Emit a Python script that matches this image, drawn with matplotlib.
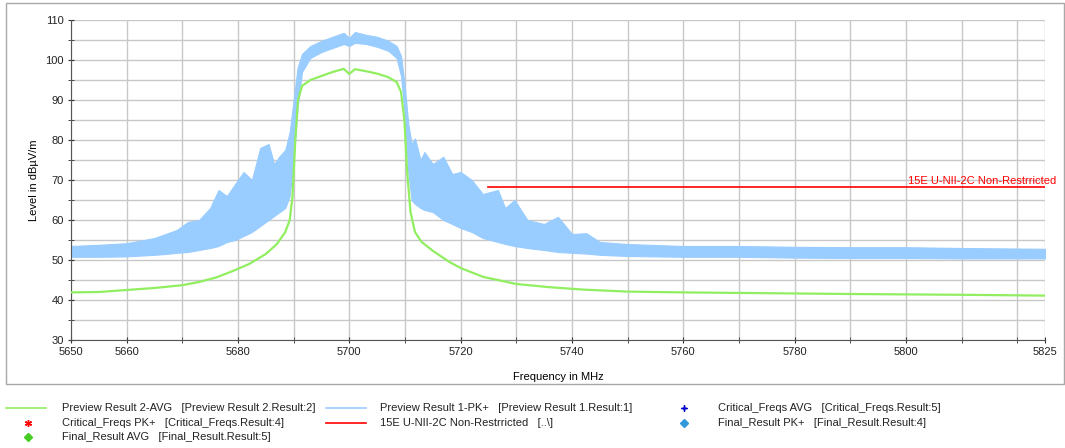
import matplotlib
matplotlib.use('Agg')
import matplotlib.pyplot as plt
from matplotlib.lines import Line2D
from matplotlib.patches import Rectangle
from matplotlib.ticker import MultipleLocator

plt.rcParams['font.family'] = ['Liberation Sans', 'DejaVu Sans']

# ── Preview Result 1-PK+ : envelope of the noisy peak trace (MHz, dBuV/m) ────
pk_freq = [5650, 5655, 5660, 5665, 5667, 5669, 5671, 5673, 5675, 5676.5, 5678,
           5679.5, 5681, 5682.5, 5684, 5685.5, 5686.5, 5687.5, 5688.5, 5689.3,
           5690, 5690.7, 5691.5, 5693, 5695, 5697, 5699, 5700, 5701, 5703,
           5705, 5707, 5708.5, 5709.3, 5710, 5710.6, 5711.2, 5711.8, 5712.8,
           5713.5, 5715, 5716.9, 5718.5, 5720, 5722, 5724, 5726.7, 5728,
           5729.7, 5732, 5735, 5737.5, 5740, 5742.6, 5745, 5750, 5760, 5770,
           5780, 5790, 5800, 5810, 5825]
pk_low = [50.8, 50.8, 50.9, 51.3, 51.5, 51.8, 52.0, 52.5, 53.0, 53.5, 54.5,
          55.0, 56.0, 57.0, 58.5, 60.0, 61.0, 62.0, 63.0, 66.0,
          75.0, 88.0, 97.0, 100.5, 102.0, 103.0, 104.0, 103.5, 104.3, 104.0,
          103.3, 102.3, 100.5, 96.0, 86.0, 72.0, 65.0, 64.0, 63.0,
          62.5, 62.0, 60.0, 59.0, 58.0, 57.0, 55.5, 54.5, 54.0,
          53.5, 53.0, 52.5, 52.0, 51.8, 51.6, 51.3, 51.0, 50.8, 50.8,
          50.6, 50.5, 50.5, 50.4, 50.4]
pk_high = [53.5, 53.8, 54.2, 55.5, 56.5, 57.5, 59.5, 60.0, 63.0, 67.5, 66.0,
           69.0, 72.0, 70.0, 78.0, 79.0, 74.0, 76.0, 77.5, 82.0,
           90.0, 98.0, 101.5, 103.5, 104.8, 105.8, 106.8, 105.5, 107.0, 106.3,
           105.8, 104.8, 103.5, 101.0, 93.0, 84.0, 79.0, 80.4, 75.0,
           77.0, 74.0, 75.8, 71.5, 72.0, 70.0, 66.5, 67.5, 63.0,
           65.0, 60.0, 59.0, 60.8, 56.5, 56.7, 54.5, 54.0, 53.5, 53.5,
           53.3, 53.2, 53.2, 53.0, 52.8]

# ── Preview Result 2-AVG ──────────────────────────────────────────────────────
av_freq = [5650, 5655, 5660, 5665, 5670, 5673, 5676, 5679, 5682, 5685, 5687,
           5688.5, 5689.3, 5689.8, 5690.3, 5690.8, 5691.5, 5693, 5695, 5697,
           5699, 5700, 5701, 5703, 5705, 5707, 5708.5, 5709.3, 5709.9, 5710.4,
           5711, 5711.8, 5713, 5715, 5718, 5720, 5724, 5730, 5736, 5742, 5750,
           5760, 5775, 5790, 5800, 5810, 5825]
av_level = [41.9, 42.0, 42.5, 43.0, 43.7, 44.5, 45.6, 47.2, 49.0, 51.5, 54.0,
            57.0, 60.0, 66.0, 80.0, 90.0, 93.5, 95.0, 96.0, 97.0, 97.8, 96.5,
            97.7, 97.2, 96.6, 95.7, 94.5, 92.0, 85.0, 72.0, 62.0, 57.0, 54.5,
            52.3, 49.5, 48.0, 45.8, 44.0, 43.2, 42.6, 42.1, 41.9, 41.7, 41.5,
            41.4, 41.3, 41.1]

# ── Limit line ────────────────────────────────────────────────────────────────
lim_freq = [5725, 5825]
lim_level = [68.2, 68.2]
lim_name = '15E U-NII-2C Non-Restrricted'

x_labels = [5650, 5660, 5680, 5700, 5720, 5740, 5760, 5780, 5800, 5825]

C_PK = '#99CCFF'
C_AV = '#90EE60'
C_LIM = '#FF0000'

W, H = 1065, 448
fig = plt.figure(figsize=(W / 100, H / 100), dpi=100)
ax = fig.add_axes([71 / W, 1 - 340 / H, (1045 - 71) / W, (340 - 20) / H])

ax.fill_between(pk_freq, pk_low, pk_high, color=C_PK, linewidth=0.8,
                edgecolor=C_PK, zorder=2)
ax.plot(av_freq, av_level, color=C_AV, linewidth=1.6, zorder=3)
ax.plot(lim_freq, lim_level, color=C_LIM, linewidth=1.2, zorder=4)
ax.text(lim_freq[-1] + 2.0, lim_level[0] + 0.4, lim_name, color=C_LIM,
        fontsize=8, ha='right', va='bottom', clip_on=False, zorder=5)

ax.set_xlim(5650, 5825)
ax.set_ylim(30, 110)
ax.set_xticks(x_labels, [str(v) for v in x_labels])
ax.set_xticks(list(range(5650, 5821, 10)) + [5825], minor=True)
ax.yaxis.set_major_locator(MultipleLocator(10))
ax.yaxis.set_minor_locator(MultipleLocator(5))
ax.grid(True, which='both', color='#C8C8C8', linewidth=1.0, zorder=0)
ax.set_axisbelow(True)
for s in ['top', 'right']:
    ax.spines[s].set_visible(False)
for s in ['left', 'bottom']:
    ax.spines[s].set_color('#555555')
ax.tick_params(which='both', labelsize=8, colors='#333333', length=4,
               direction='inout', labelcolor='#222222', pad=3)
ax.set_xlabel('Frequency in MHz', fontsize=8, labelpad=11)
ax.set_ylabel('Level in dBµV/m', fontsize=8, labelpad=5)

# outer frame
fig.patches.append(Rectangle((6 / W, 1 - 384 / H), (1064 - 6) / W, (384 - 3) / H,
                             transform=fig.transFigure, fill=False,
                             edgecolor='#A8A8A8', linewidth=1.0))

# legend rows (drawn manually, three columns)
rows = [408, 423, 437]
def fy(y):
    return 1 - y / H

def leg_line(x0, x1, y, color):
    fig.add_artist(Line2D([x0 / W, x1 / W], [fy(y), fy(y)], color=color,
                          linewidth=1.2, transform=fig.transFigure))

def leg_mark(x, y, marker, color, size):
    fig.add_artist(Line2D([x / W], [fy(y)], marker=marker, color=color,
                          markersize=size, linestyle='none',
                          transform=fig.transFigure))

def leg_text(x, y, s):
    fig.text(x / W, fy(y), s, fontsize=8, va='center', ha='left', color='#222222')

leg_line(6, 46, rows[0], C_AV)
leg_text(62, rows[0], 'Preview Result 2-AVG   [Preview Result 2.Result:2]')
leg_mark(28, rows[1], (6, 2, 0), C_LIM, 5)
leg_text(62, rows[1], 'Critical_Freqs PK+   [Critical_Freqs.Result:4]')
leg_mark(28, rows[2], 'D', '#44CC22', 4)
leg_text(62, rows[2], 'Final_Result AVG   [Final_Result.Result:5]')

leg_line(326, 366, rows[0], C_PK)
leg_text(380, rows[0], 'Preview Result 1-PK+   [Preview Result 1.Result:1]')
leg_line(326, 366, rows[1], C_LIM)
leg_text(380, rows[1], lim_name + '   [..\\]')

leg_mark(684, rows[0], (4, 2, 0), '#0000CC', 5)
leg_text(718, rows[0], 'Critical_Freqs AVG   [Critical_Freqs.Result:5]')
leg_mark(684, rows[1], 'D', '#3399DD', 4)
leg_text(718, rows[1], 'Final_Result PK+   [Final_Result.Result:4]')

fig.savefig('out.png', dpi=100)
